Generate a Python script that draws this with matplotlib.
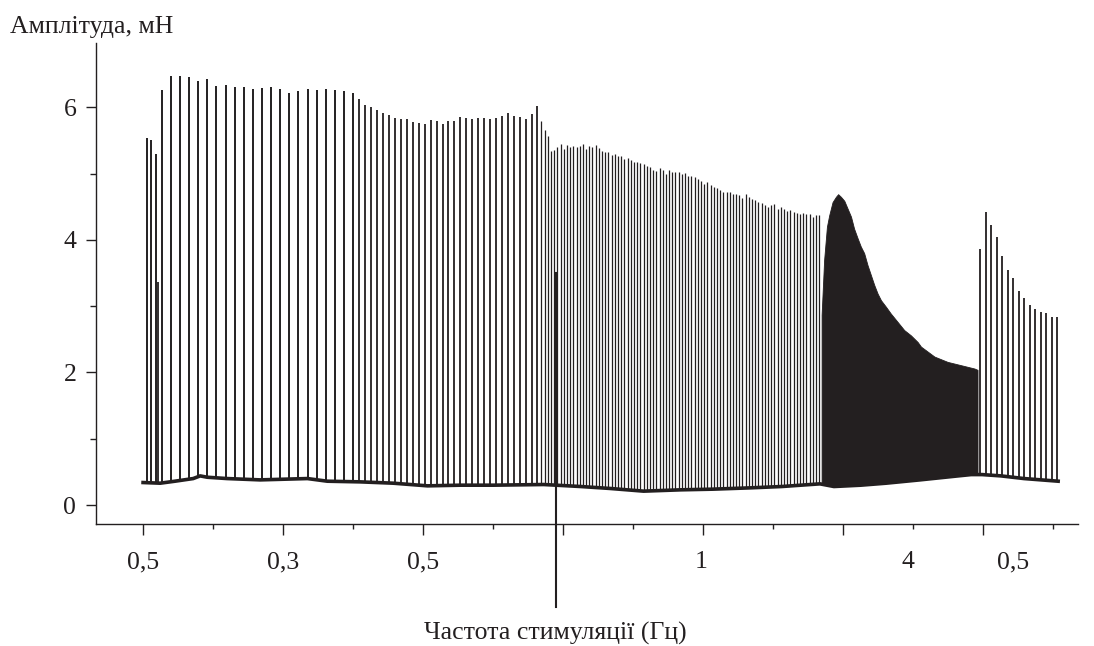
import matplotlib
matplotlib.use("Agg")
import matplotlib.pyplot as plt
import numpy as np
from matplotlib.ticker import MultipleLocator

plt.rcParams["font.family"] = ["Liberation Serif", "DejaVu Serif"]
INK = "#231f20"
FS = 18.5

# time in seconds (tick every 25 s), amplitude in mN
# each stimulation block: first spike time, last spike time, peak amplitudes
seg_a_span = (1.3, 4.5)      # 0.5 Hz
seg_a_amp = [5.53, 5.51, 5.30]
extra_spike = (5.3, 3.36)

seg_b_span = (6.7, 75.0)     # 0.3 Hz
seg_b_amp = [6.26, 6.47, 6.47, 6.45, 6.40, 6.42, 6.32, 6.33, 6.30, 6.30, 6.27,
             6.29, 6.30, 6.27, 6.21, 6.24, 6.27, 6.26, 6.28, 6.26, 6.24, 6.22]

seg_c_span = (77.3, 140.9)   # 0.5 Hz
seg_c_amp = [6.13, 6.04, 6.01, 5.96, 5.92, 5.88, 5.84, 5.82, 5.82, 5.78, 5.76,
             5.75, 5.81, 5.80, 5.75, 5.79, 5.80, 5.86, 5.84, 5.83, 5.84, 5.84,
             5.83, 5.84, 5.87, 5.91, 5.87, 5.86, 5.83, 5.90, 6.02]

seg_d_span = (142.3, 241.5)  # 1 Hz
seg_d_amp = [5.79, 5.66, 5.56, 5.34, 5.35, 5.40, 5.44, 5.37, 5.43, 5.40, 5.42,
             5.40, 5.41, 5.44, 5.37, 5.41, 5.40, 5.43, 5.38, 5.34, 5.33, 5.33,
             5.28, 5.29, 5.27, 5.27, 5.22, 5.24, 5.20, 5.18, 5.17, 5.16, 5.14,
             5.12, 5.10, 5.06, 5.04, 5.09, 5.05, 4.99, 5.05, 5.02, 5.02, 5.02,
             4.99, 5.01, 4.97, 4.97, 4.95, 4.92, 4.89, 4.85, 4.87, 4.83, 4.80,
             4.79, 4.76, 4.73, 4.73, 4.73, 4.70, 4.69, 4.67, 4.63, 4.69, 4.64,
             4.62, 4.60, 4.57, 4.55, 4.52, 4.50, 4.52, 4.54, 4.47, 4.49, 4.46,
             4.44, 4.45, 4.42, 4.41, 4.39, 4.40, 4.39, 4.39, 4.35, 4.37, 4.38]

# 4 Hz block: spikes fuse into a solid envelope
seg_e_t = [242.4, 243.3, 244.3, 245.1, 246.3, 247.5, 248.3, 249.3, 250.5, 251.7,
           252.9, 254.0, 255.3, 256.4, 257.6, 258.8, 260.0, 261.2, 262.4, 263.6,
           265.4, 267.1, 269.6, 271.9, 274.3, 276.7, 277.9, 282.7, 287.4, 292.2,
           297.0, 298.1]
seg_e_amp = [2.87, 3.70, 4.20, 4.37, 4.57, 4.65, 4.69, 4.65, 4.59, 4.47, 4.35,
             4.17, 4.02, 3.90, 3.80, 3.62, 3.47, 3.32, 3.19, 3.09, 2.99, 2.89,
             2.76, 2.64, 2.56, 2.46, 2.39, 2.24, 2.16, 2.11, 2.06, 2.04]

seg_f_span = (299.1, 326.5)  # 0.5 Hz
seg_f_amp = [3.87, 4.42, 4.22, 4.04, 3.75, 3.54, 3.42, 3.23, 3.12, 3.02, 2.96,
             2.92, 2.89, 2.83, 2.83]

base_t = [0, 6.1, 11.4, 17.9, 20.4, 22.9, 30.0, 41.8, 58.7, 65.8, 77.6, 89.4,
          101.6, 113.4, 125.2, 143.1, 156.3, 167.0, 178.8, 192.1, 203.5, 217.1,
          228.2, 241.8, 246.8, 256.4, 265.4, 277.5, 291.1, 295.8, 299.7, 306.5,
          314.7, 326.9]
base_v = [0.34, 0.33, 0.36, 0.40, 0.44, 0.42, 0.40, 0.38, 0.40, 0.36, 0.35, 0.33,
          0.29, 0.30, 0.30, 0.31, 0.28, 0.25, 0.21, 0.23, 0.24, 0.26, 0.28, 0.32,
          0.28, 0.30, 0.33, 0.38, 0.44, 0.46, 0.46, 0.44, 0.40, 0.36]

marker_t = 147.4
marker_top = 3.5

freq_labels = ["0,5", "0,3", "0,5", "1", "4", "0,5"]
freq_pos = [0, 50.1, 100.1, 199.2, 273.2, 310.8]

SPIKE_FLOOR = 0.15

fig = plt.figure(figsize=(10.94, 6.46), dpi=100)
ax = fig.add_axes([0.0878, 0.1884, 0.8976, 0.745])

for span, amp, lw in [(seg_a_span, seg_a_amp, 1.4), (seg_b_span, seg_b_amp, 1.4),
                      (seg_c_span, seg_c_amp, 1.3), (seg_d_span, seg_d_amp, 0.9),
                      (seg_f_span, seg_f_amp, 1.3)]:
    t = np.linspace(span[0], span[1], len(amp))
    ax.vlines(t, SPIKE_FLOOR, amp, color=INK, lw=lw, zorder=2)
ax.vlines([extra_spike[0]], SPIKE_FLOOR, [extra_spike[1]], color=INK, lw=1.3, zorder=2)

ax.fill_between(seg_e_t, SPIKE_FLOOR, seg_e_amp, color=INK, lw=0.6, edgecolor=INK, zorder=2)

# hide spike roots below the noisy baseline, then draw the baseline
ax.fill_between(base_t, 0.05, base_v, color="white", lw=0, zorder=3)
ax.plot(base_t, base_v, color=INK, lw=2.6, zorder=4, solid_joinstyle="round")

ax.plot([marker_t, marker_t], [marker_top, -1.54], color=INK, lw=1.5,
        clip_on=False, zorder=5)

ax.set_xlim(-16.8, 334)
ax.set_ylim(-0.29, 6.97)
for s in ["top", "right"]:
    ax.spines[s].set_visible(False)
for s in ["left", "bottom"]:
    ax.spines[s].set_linewidth(1.0)
    ax.spines[s].set_color(INK)

ax.xaxis.set_major_locator(MultipleLocator(50))
ax.xaxis.set_minor_locator(MultipleLocator(25))
ax.set_xticklabels([])
ax.tick_params(axis="x", which="major", length=8, width=1, color=INK)
ax.tick_params(axis="x", which="minor", length=3.8, width=1, color=INK)

ax.set_yticks([0, 2, 4, 6])
ax.yaxis.set_minor_locator(MultipleLocator(1))
ax.tick_params(axis="y", which="major", length=7.2, width=1, color=INK,
               labelsize=FS, pad=7, labelcolor=INK)
ax.tick_params(axis="y", which="minor", length=4.5, width=1, color=INK)

for lab, pos in zip(freq_labels, freq_pos):
    ax.text(pos, -0.86, lab, ha="center", va="center", fontsize=FS,
            color=INK, clip_on=False)

fig.text(0.009, 1 - 27 / 646, "Амплітуда, мН", fontsize=FS, color=INK,
         ha="left", va="center")
fig.text(555 / 1094, 1 - 633 / 646, "Частота стимуляції (Гц)", fontsize=FS,
         color=INK, ha="center", va="center")

fig.savefig("out.png", dpi=100)
